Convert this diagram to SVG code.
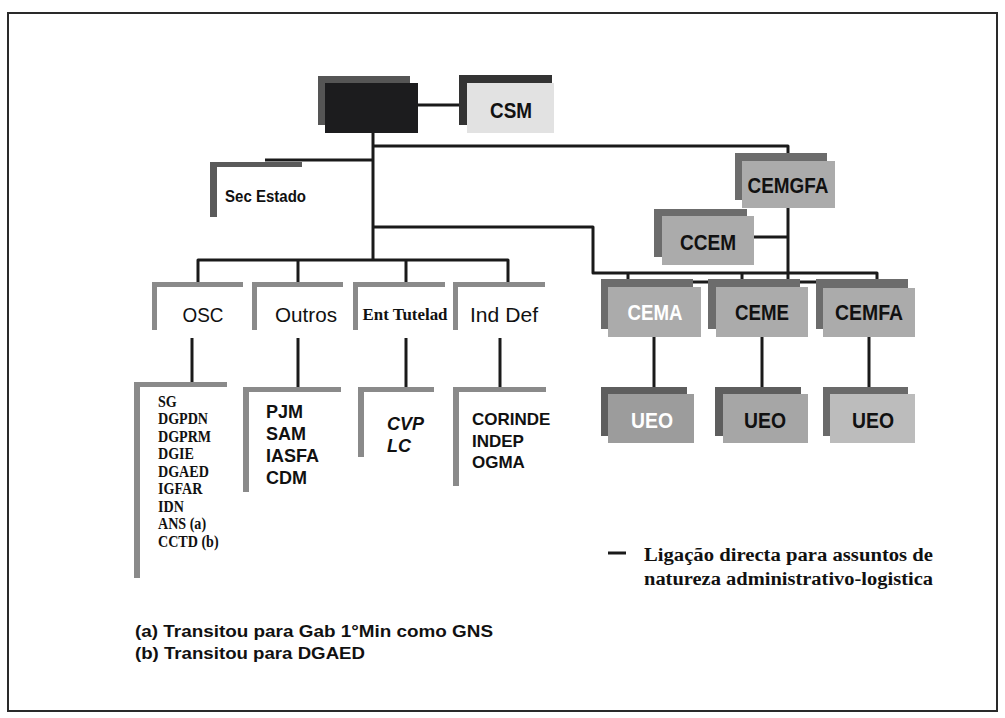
<svg xmlns="http://www.w3.org/2000/svg" width="1005" height="718" viewBox="0 0 1005 718">
<style>
.bg{fill:#ffffff}
.frame{fill:none;stroke:#2a2a2a;stroke-width:2}
.ln{fill:none;stroke:#1a1a1a;stroke-width:3;stroke-linejoin:round}
.back{fill:#6c6c6c}
.front{fill:#ababab}
.lback{fill:#8a8a8a}
.white{fill:#ffffff}
.lbl{font-family:"Liberation Sans",Arial,sans-serif;font-weight:bold;font-size:22px;fill:#111;text-anchor:middle}
.lblw{fill:#ffffff}
.cat{font-family:"Liberation Sans",Arial,sans-serif;font-size:21px;fill:#111;text-anchor:middle}
.ser{font-family:"Liberation Serif","Times New Roman",serif;font-weight:bold;fill:#111}
.com{font-family:"Liberation Sans",Arial,sans-serif;font-weight:bold;fill:#111}
</style>
<rect class="bg" x="0" y="0" width="1005" height="718"/>
<rect class="frame" x="8" y="13" width="989" height="698"/>

<g id="connectors">
  <polyline class="ln" points="418,105 459,105"/>
  <polyline class="ln" points="373,133 373,260"/>
  <polyline class="ln" points="265,160 373,160"/>
  <polyline class="ln" points="373,146 788,146 788,154"/>
  <polyline class="ln" points="788,208 788,282"/>
  <polyline class="ln" points="754,237 788,237"/>
  <polyline class="ln" points="373,227 593,227 593,273 877,273 877,287"/>
  <polyline class="ln" points="628,273 628,281"/>
  <polyline class="ln" points="742,273 742,281"/>
  <polyline class="ln" points="653,289 653,282 863,282 863,289"/>
  <polyline class="ln" points="755,282 755,289"/>
  <polyline class="ln" points="198,284 198,260 508,260 508,284"/>
  <polyline class="ln" points="298,260 298,284"/>
  <polyline class="ln" points="406,260 406,284"/>
  <polyline class="ln" points="192,338 192,383"/>
  <polyline class="ln" points="298,338 298,388"/>
  <polyline class="ln" points="406,338 406,388"/>
  <polyline class="ln" points="500,338 500,388"/>
  <polyline class="ln" points="654,337 654,394"/>
  <polyline class="ln" points="762,337 762,394"/>
  <polyline class="ln" points="869,337 869,394"/>
</g>

<g id="top">
  <rect x="318" y="76" width="92" height="49" fill="#555555"/>
  <rect x="325" y="83" width="93" height="50" fill="#1c1c1e"/>
</g>

<g id="csm">
  <rect x="459" y="75" width="93" height="50" fill="#333333"/>
  <rect x="467" y="83" width="87" height="50" fill="#e2e2e2"/>
  <text class="lbl" x="511" y="118" textLength="42" lengthAdjust="spacingAndGlyphs">CSM</text>
</g>

<g id="sec-estado">
  <rect x="210" y="162" width="92" height="55" fill="#5a5a5a"/>
  <rect x="217" y="167" width="90" height="56" class="white"/>
  <text class="com" x="225" y="202" font-size="17" textLength="81" lengthAdjust="spacingAndGlyphs">Sec Estado</text>
</g>

<g id="cemgfa">
  <rect class="back" x="735" y="153" width="92" height="47"/>
  <rect class="front" x="742" y="161" width="93" height="47"/>
  <text class="lbl" x="788" y="193" textLength="81" lengthAdjust="spacingAndGlyphs">CEMGFA</text>
</g>

<g id="ccem">
  <rect class="back" x="654" y="209" width="93" height="48"/>
  <rect class="front" x="662" y="216" width="92" height="49"/>
  <text class="lbl" x="708" y="250" textLength="56" lengthAdjust="spacingAndGlyphs">CCEM</text>
</g>

<g id="cema">
  <rect class="back" x="601" y="279" width="92" height="50"/>
  <rect class="front" x="608" y="287" width="93" height="50"/>
  <text class="lbl lblw" x="655" y="320" textLength="55" lengthAdjust="spacingAndGlyphs">CEMA</text>
</g>

<g id="ceme">
  <rect class="back" x="708" y="279" width="92" height="50"/>
  <rect class="front" x="716" y="287" width="92" height="50"/>
  <text class="lbl" x="762" y="320" textLength="54" lengthAdjust="spacingAndGlyphs">CEME</text>
</g>

<g id="cemfa">
  <rect class="back" x="816" y="279" width="92" height="50"/>
  <rect class="front" x="823" y="288" width="92" height="49" fill="#b4b4b4"/>
  <text class="lbl" x="869" y="320" textLength="68" lengthAdjust="spacingAndGlyphs">CEMFA</text>
</g>

<g id="ueo-a">
  <rect x="601" y="387" width="86" height="49" fill="#5e5e5e"/>
  <rect x="608" y="394" width="86" height="49" fill="#9c9c9c"/>
  <text class="lbl lblw" x="652" y="428" textLength="42" lengthAdjust="spacingAndGlyphs">UEO</text>
</g>

<g id="ueo-e">
  <rect x="715" y="387" width="86" height="49" fill="#5e5e5e"/>
  <rect x="723" y="394" width="85" height="49" fill="#a6a6a6"/>
  <text class="lbl" x="765" y="428" textLength="42" lengthAdjust="spacingAndGlyphs">UEO</text>
</g>

<g id="ueo-fa">
  <rect x="823" y="387" width="85" height="49" fill="#6a6a6a"/>
  <rect x="830" y="394" width="85" height="49" fill="#bcbcbc"/>
  <text class="lbl" x="873" y="428" textLength="42" lengthAdjust="spacingAndGlyphs">UEO</text>
</g>

<g id="osc">
  <rect class="lback" x="152" y="282" width="91" height="48"/>
  <rect class="white" x="157" y="287" width="90" height="48"/>
  <text class="cat" x="203" y="322" textLength="41" lengthAdjust="spacingAndGlyphs">OSC</text>
</g>

<g id="outros">
  <rect class="lback" x="252" y="282" width="91" height="48"/>
  <rect class="white" x="257" y="287" width="90" height="48"/>
  <text class="cat" x="306" y="322" textLength="62" lengthAdjust="spacingAndGlyphs">Outros</text>
</g>

<g id="ent-tutelad">
  <rect class="lback" x="353" y="282" width="92" height="48"/>
  <rect class="white" x="358" y="287" width="90" height="48"/>
  <text class="ser" x="405" y="320" font-size="16" text-anchor="middle" textLength="85" lengthAdjust="spacingAndGlyphs">Ent Tutelad</text>
</g>

<g id="ind-def">
  <rect class="lback" x="453" y="282" width="92" height="48"/>
  <rect class="white" x="458" y="287" width="90" height="48"/>
  <text class="cat" x="504" y="322" textLength="68" lengthAdjust="spacingAndGlyphs">Ind Def</text>
</g>

<g id="osc-list">
  <rect class="lback" x="134" y="382" width="93" height="196"/>
  <rect class="white" x="140" y="387" width="90" height="196"/>
  <g transform="translate(158 0) scale(0.88 1)">
    <text class="ser" font-size="16">
      <tspan x="0" y="407">SG</tspan>
      <tspan x="0" y="424.5">DGPDN</tspan>
      <tspan x="0" y="442">DGPRM</tspan>
      <tspan x="0" y="459.5">DGIE</tspan>
      <tspan x="0" y="477">DGAED</tspan>
      <tspan x="0" y="494.5">IGFAR</tspan>
      <tspan x="0" y="512">IDN</tspan>
      <tspan x="0" y="529.5">ANS (a)</tspan>
      <tspan x="0" y="547">CCTD (b)</tspan>
    </text>
  </g>
</g>

<g id="outros-list">
  <rect class="lback" x="243" y="387" width="98" height="105"/>
  <rect class="white" x="249" y="392" width="95" height="105"/>
  <text class="com" font-size="18">
    <tspan x="266" y="418">PJM</tspan>
    <tspan x="266" y="440">SAM</tspan>
    <tspan x="266" y="462">IASFA</tspan>
    <tspan x="266" y="484">CDM</tspan>
  </text>
</g>

<g id="ent-list">
  <rect class="lback" x="358" y="387" width="76" height="70"/>
  <rect class="white" x="364" y="392" width="72" height="70"/>
  <text class="com" font-size="18" font-style="italic">
    <tspan x="387" y="430">CVP</tspan>
    <tspan x="387" y="452">LC</tspan>
  </text>
</g>

<g id="ind-list">
  <rect class="lback" x="453" y="387" width="93" height="99"/>
  <rect class="white" x="459" y="392" width="90" height="99"/>
  <text class="com" font-size="17">
    <tspan x="472" y="425">CORINDE</tspan>
    <tspan x="472" y="447">INDEP</tspan>
    <tspan x="472" y="468">OGMA</tspan>
  </text>
</g>

<g id="legend">
  <line x1="608" y1="553" x2="626" y2="553" stroke="#1a1a1a" stroke-width="3"/>
  <text class="ser" x="644" y="561" font-size="18.5" textLength="289" lengthAdjust="spacingAndGlyphs">Ligação directa para assuntos de</text>
  <text class="ser" x="644" y="585" font-size="18.5" textLength="289" lengthAdjust="spacingAndGlyphs">natureza administrativo-logistica</text>
</g>

<g id="footnotes">
  <text class="com" x="135" y="637" font-size="17" textLength="358" lengthAdjust="spacingAndGlyphs">(a) Transitou para Gab 1°Min como GNS</text>
  <text class="com" x="135" y="659" font-size="17" textLength="230" lengthAdjust="spacingAndGlyphs">(b) Transitou para DGAED</text>
</g>
</svg>
